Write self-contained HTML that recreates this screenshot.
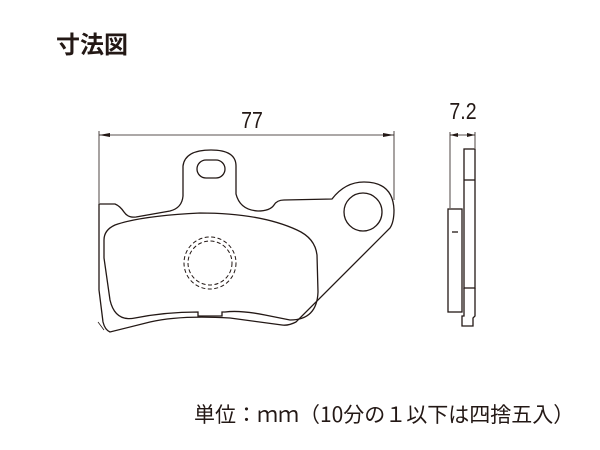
<!DOCTYPE html>
<html><head><meta charset="utf-8"><style>
html,body{margin:0;padding:0;background:#fff;width:600px;height:450px;overflow:hidden}
.t{position:absolute;font-family:"Liberation Sans","Noto Sans CJK JP",sans-serif;color:#231815;white-space:nowrap}
</style></head><body>
<div class="t" style="left:56px;top:31px;font-size:24px;font-weight:bold;line-height:30px">寸法図</div>
<div class="t" style="left:194px;top:400px;font-size:21px;line-height:28px;font-family:'Noto Sans CJK JP',sans-serif">単位：ｍｍ（10分の１以下は四捨五入）</div>
<svg width="600" height="450" style="position:absolute;left:0;top:0" fill="none" stroke="#231815" stroke-width="1.3">
<text x="252" y="128" font-family="Liberation Sans Narrow,Liberation Sans,sans-serif" font-size="23" fill="#231815" stroke="none" text-anchor="middle" transform="translate(252,0) scale(0.85,1) translate(-252,0)">77</text>
<text x="463" y="119" font-family="Liberation Sans Narrow,Liberation Sans,sans-serif" font-size="23" fill="#231815" stroke="none" text-anchor="middle" transform="translate(463,0) scale(0.85,1) translate(-463,0)">7.2</text>
<g stroke-width="0.8">
<line x1="99" y1="131" x2="99" y2="203"/>
<line x1="394" y1="131" x2="394" y2="200"/>
<line x1="99" y1="135" x2="394" y2="135"/>
</g>
<polygon points="99,135 110,133 110,137" fill="#231815" stroke="none"/>
<polygon points="394,135 383,133 383,137" fill="#231815" stroke="none"/>
<path d="M99,204 L115,204 Q120,206 124,212 Q128,218 136,217 L170,211 Q182,208 183,196 L183,166 Q185,150 211,150 Q236,150 236,166 L236,194 Q240,210 258,211 Q270,211 274,205 Q277,200 284,200 L332,199 Q345,182 364,182 Q393,182 394,210 Q394,222 390,228 L296,322 Q288,326 282,325 L230,318 Q180,315 150,322 L110,332 Q105,330 103,322 L99,290 Z"/>
<path d="M104,240 Q104,230 115,225 Q140,216 200,213 Q260,213 297,230 Q315,238 317,255 L318,292 Q317,320 290,320 L265,315 Q240,310 225,312 L222,312 L222,316 L198,316 L198,312 Q165,312 135,318 Q115,322 110,300 L104,258 Z"/>
<line x1="104" y1="330" x2="98" y2="322" stroke-width="0.8"/>
<rect x="197" y="160" width="28" height="18" rx="9"/>
<circle cx="363" cy="212" r="19"/>
<g stroke-dasharray="4,2.5" stroke-width="1">
<circle cx="210" cy="263" r="26"/>
<circle cx="210" cy="263" r="22"/>
</g>
<g stroke-width="0.8">
<line x1="450" y1="132" x2="450" y2="208"/>
<line x1="475" y1="132" x2="475" y2="148"/>
<line x1="450" y1="135" x2="475" y2="135"/>
</g>
<polygon points="450,135 458,133 458,137" fill="#231815" stroke="none"/>
<polygon points="475,135 467,133 467,137" fill="#231815" stroke="none"/>
<rect x="464" y="149" width="11" height="139"/>
<line x1="464" y1="180" x2="475" y2="180"/>
<path d="M464,288 L464,316 L462,316 L462,326 L473,326 L473,318 L475,316 L475,288"/>
<rect x="448" y="209" width="14" height="103"/>
<line x1="452" y1="232" x2="458" y2="232"/>
</svg>
</body></html>
